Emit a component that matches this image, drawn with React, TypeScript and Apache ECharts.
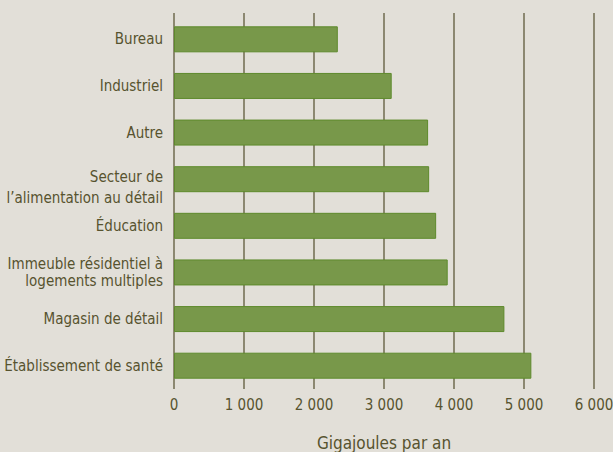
import React, { useEffect, useRef } from "react";
import * as echarts from "echarts";

const categories = [
  "Bureau",
  "Industriel",
  "Autre",
  "Secteur de\nl’alimentation au détail",
  "Éducation",
  "Immeuble résidentiel à\nlogements multiples",
  "Magasin de détail",
  "Établissement de santé",
];
const values = [2340, 3110, 3630, 3645, 3745, 3910, 4720, 5105];
const axisTitle = "Gigajoules par an";
const xMin = 0;
const xMax = 6000;
const xStep = 1000;

const FONT = "'DejaVu Sans Condensed', 'Liberation Sans Narrow', sans-serif";
const TEXT = "#57532f";
const GRID = "#6f6b4f";

function fmt(v: number) {
  const s = String(Math.round(v));
  return s.replace(/\B(?=(\d{3})+(?!\d))/g, " ");
}

export default function App() {
  const ref = useRef<HTMLDivElement>(null);
  useEffect(() => {
    if (!ref.current) return;
    const chart = echarts.init(ref.current, null, { renderer: "svg" });
    chart.setOption({
      animation: false,
      backgroundColor: "#e2dfd8",
      grid: {
        left: 174,
        right: 19,
        top: 16,
        bottom: 63,
        containLabel: false,
        outerBoundsMode: "none",
      },
      xAxis: [
        {
          type: "value",
          min: xMin,
          max: xMax,
          interval: xStep,
          position: "bottom",
          axisLine: { show: false },
          axisTick: { show: false },
          splitLine: { show: true, lineStyle: { color: GRID, width: 1.5 } },
          axisLabel: {
            color: TEXT,
            fontFamily: FONT,
            fontSize: 15,
            margin: 8,
            formatter: (v: number) => fmt(v),
          },
          name: axisTitle,
          nameLocation: "middle",
          nameGap: 45,
          nameTextStyle: { color: TEXT, fontFamily: FONT, fontSize: 17 },
        },
        {
          type: "value",
          min: xMin,
          max: xMax,
          interval: xStep,
          position: "top",
          axisLine: { show: false },
          axisTick: { show: true, length: 3, lineStyle: { color: GRID, width: 1.5 } },
          axisLabel: { show: false },
          splitLine: { show: false },
        },
      ],
      yAxis: {
        type: "category",
        data: categories,
        inverse: true,
        axisLine: { show: false },
        axisTick: { show: false },
        axisLabel: {
          color: TEXT,
          fontFamily: FONT,
          fontSize: 15,
          margin: 11,
          align: "right",
          formatter: (v: string) => {
            if (v.startsWith("Secteur")) return "{s|" + v + "}";
            if (v.startsWith("Immeuble")) return "{m|" + v + "}";
            return v;
          },
          rich: {
            s: {
              color: TEXT,
              fontFamily: FONT,
              fontSize: 15,
              lineHeight: 21,
              align: "right",
              padding: [16, 0, 0, 0],
            },
            m: {
              color: TEXT,
              fontFamily: FONT,
              fontSize: 15,
              lineHeight: 17,
              align: "right",
            },
          },
        },
      },
      series: [
        {
          type: "bar",
          data: values,
          barWidth: 26,
          itemStyle: { color: "#78984a", borderColor: "#5e8a2c", borderWidth: 1 },
        },
      ],
    });
    return () => chart.dispose();
  }, []);
  return <div ref={ref} style={{ width: 613, height: 452, position: "absolute", left: 0, top: 0 }} />;
}
